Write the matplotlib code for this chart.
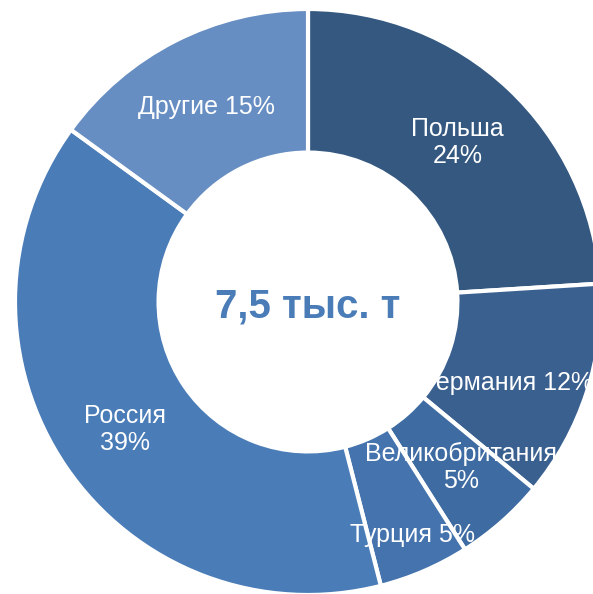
import numpy as np
import matplotlib
matplotlib.use('Agg')
from matplotlib import pyplot as plt

plt.rcParams['font.family'] = ['Liberation Sans', 'DejaVu Sans']

countries = ['Польша', 'Германия', 'Великобритания', 'Турция', 'Россия', 'Другие']
shares = [24, 12, 5, 5, 39, 15]
labels = ['Польша\n24%', 'Германия 12%', 'Великобритания\n5%', 'Турция 5%', 'Россия\n39%', 'Другие 15%']
colors = ['#34587f', '#3a608f', '#3e6ba1', '#4473ad', '#4a7cb7', '#678ec2']
total_text = '7,5 тыс. т'

# label placement: radius as a fraction of outer radius, angle shift in degrees
lab_r = [0.745, 0.74, 0.77, 0.87, 0.76, 0.75]
lab_shift = [0, -4, 1.4, 0.7, 0.6, 0.4]

fig = plt.figure(figsize=(5.93, 5.94), dpi=100)
ax = fig.add_axes([0, 0, 1, 1])

cx, cy, R = 308, 292, 293
wedges, _ = ax.pie(shares, colors=colors, startangle=90, counterclock=False,
                   center=(cx, cy), radius=R, frame=True,
                   wedgeprops=dict(width=R * 0.49, edgecolor='white', linewidth=3))
ax.set_xlim(0, 593)
ax.set_ylim(0, 594)
ax.set_aspect('equal')
ax.axis('off')

for w, lab, rf, sh in zip(wedges, labels, lab_r, lab_shift):
    ang = np.deg2rad((w.theta1 + w.theta2) / 2 + sh)
    ax.text(cx + rf * R * np.cos(ang), cy + rf * R * np.sin(ang), lab,
            ha='center', va='center', color='white', fontsize=18, linespacing=1.15)

ax.text(cx, cy - 4, total_text, ha='center', va='center', color='#4a7cb7',
        fontsize=29, fontweight='bold')

fig.savefig('out.png', dpi=100)
